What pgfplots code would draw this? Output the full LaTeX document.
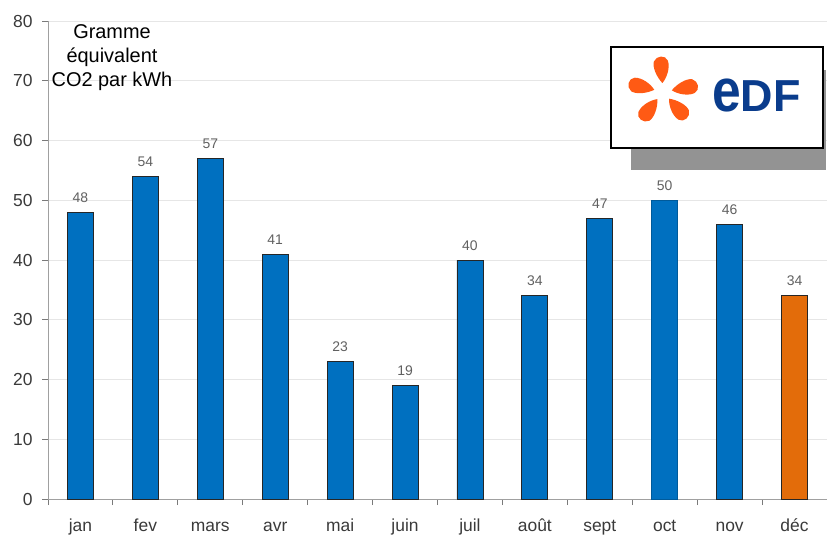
\documentclass[border=0pt]{standalone}
\usepackage{pgfplots}
\pgfplotsset{compat=1.18}
\usepackage{fontspec}
\setmainfont{Liberation Sans}
\definecolor{barblue}{HTML}{0070C0}
\definecolor{barorange}{HTML}{E36C0A}
\definecolor{edfblue}{HTML}{0A3C8C}
\definecolor{edforange}{HTML}{FF5A14}
\definecolor{axgray}{HTML}{A0A0A0}
\definecolor{tickgray}{HTML}{7A7A7A}
\definecolor{gridgray}{HTML}{E6E6E6}
\definecolor{ticktext}{HTML}{3A3A3A}
\definecolor{valtext}{HTML}{606060}
\begin{document}
\begin{tikzpicture}
\useasboundingbox (0,0) rectangle (827bp,537bp);
\begin{axis}[
  at={(48bp,38bp)}, anchor=south west,
  scale only axis, width=779bp, height=478bp,
  xmin=-0.5, xmax=11.5, ymin=0, ymax=80,
  axis lines=left, axis line style={draw=axgray, line width=0.9bp, -},
  ytick={0,10,...,80},
  ymajorgrids, grid style={draw=gridgray, line width=0.8bp},
  tick style={draw=tickgray, line width=1bp},
  major tick length=6bp, tick align=outside,
  xtick pos=bottom, ytick pos=left,
  xtick={-0.5,0.5,...,10.5},
  xticklabels={},
  extra x ticks={0,...,11},
  extra x tick labels={jan,fev,mars,avr,mai,juin,juil,août,sept,oct,nov,déc},
  extra x tick style={major tick length=0pt, grid=none},
  tick label style={font=\fontsize{17.5}{20}\selectfont, text=ticktext},
  xticklabel style={text height=13bp, text depth=4bp, yshift=-16bp},
  yticklabel style={xshift=-6bp},
  /pgf/number format/assume math mode=true,
  clip=false,
  nodes near coords,
  every node near coord/.append style={font=\fontsize{14}{16}\selectfont, text=valtext, anchor=base, inner sep=0pt, yshift=10bp},
]
\addplot[ybar, bar width=26bp, bar shift=0pt, fill=barblue, draw=black!85, line width=0.9bp]
  coordinates {(0,48) (1,54) (2,57) (3,41) (4,23) (5,19) (6,40) (7,34) (8,47) (10,46)};
\addplot[ybar, bar width=26bp, bar shift=0pt, fill=barblue, draw=barblue!80!black, line width=0.9bp]
  coordinates {(9,50)};
\addplot[ybar, bar width=26bp, bar shift=0pt, fill=barorange, draw=black!85, line width=0.9bp]
  coordinates {(11,34)};
\end{axis}
\begin{scope}[x=1bp, y=-1bp, shift={(0,537bp)}]
  \node[align=center, inner sep=0pt, font=\fontsize{20}{24}\selectfont, text=black] at (112,58) {Gramme\\équivalent\\CO2 par kWh};
  % logo shadow
  \fill[gray!85] (631,70) rectangle (826,170);
  \fill[white] (611,47) rectangle (823,148);
  \draw[black, line width=1.6bp] (611,47) rectangle (823,148);
  % petals
  \foreach \a in {94,-194,-128,-48,11}{
    \fill[edforange, shift={(663,92)}, rotate=\a]
      (9,0) .. controls (15,-5) and (25,-9) .. (31,-7)
      .. controls (37,-4) and (37,5) .. (31,7)
      .. controls (24,9) and (14,5) .. (9,0) -- cycle;
  }
  \node[anchor=base west, inner sep=0pt, text=edfblue, font=\fontsize{45}{45}\selectfont\bfseries] at (712,112) {\scalebox{1.15}[1.35]{e}DF};
\end{scope}
\end{tikzpicture}
\end{document}
